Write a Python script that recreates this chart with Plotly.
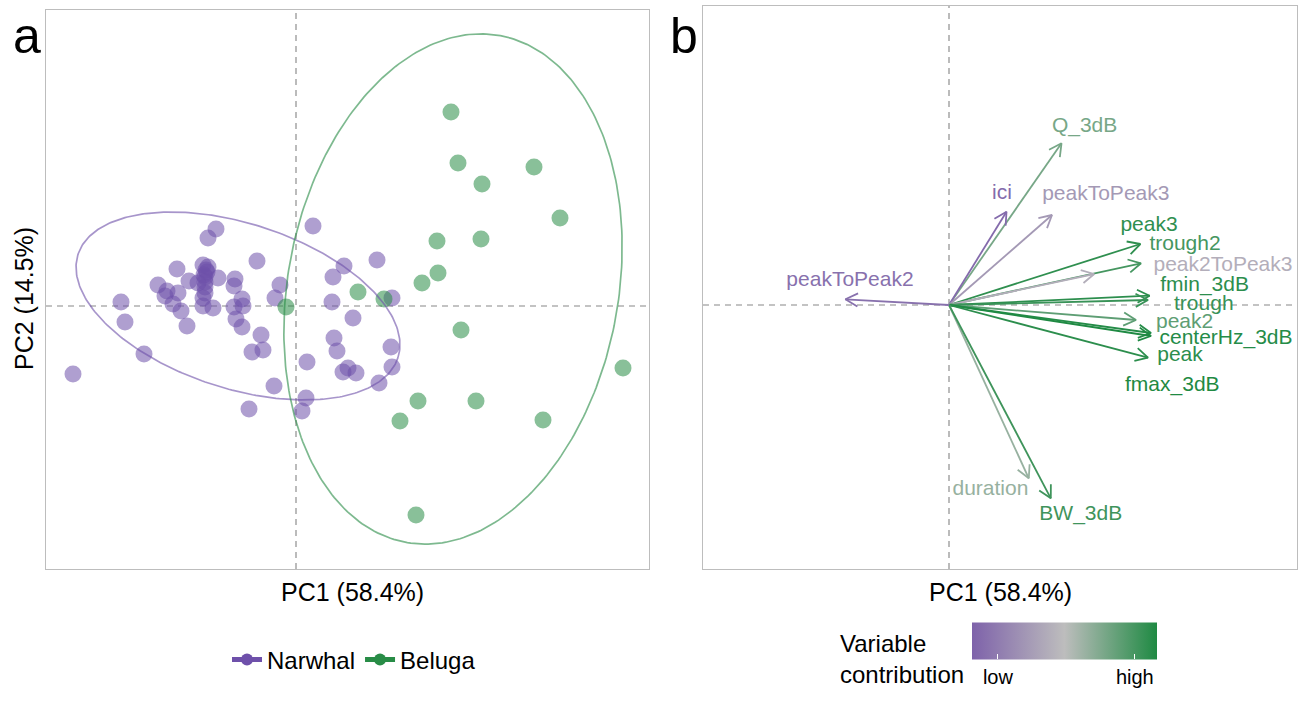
import numpy as np
import plotly.graph_objects as go
from plotly.colors import sample_colorscale

# ---------------- data: panel a (individuals) ----------------
narwhal_pc1 = [-2.23, -1.75, -1.71, -1.52, -1.38, -1.29, -1.31, -1.19, -1.18, -1.23,
               -1.15, -1.09, -1.07, -0.98, -0.93, -0.88, -0.80, -0.88, -0.89, -0.91,
               -0.91, -0.91, -0.93, -0.93, -0.83, -0.78, -0.61, -0.62, -0.54, -0.62,
               -0.53, -0.60, -0.54, -0.39, -0.16, -0.21, -0.35, -0.44, -0.33, -0.47,
               -0.22, 0.11, 0.10, 0.06, 0.17, 0.37, 0.48, 0.36, 0.57, 0.38,
               0.41, 0.52, 0.47, 0.60, 0.81, 0.96, 0.95, 0.96, 0.83,
               -0.90, -0.92, -0.91]
narwhal_pc2 = [-0.68, 0.04, -0.16, -0.48, 0.21, 0.15, 0.10, 0.37, 0.13, 0.02,
               -0.05, -0.20, 0.25, 0.23, 0.41, 0.68, 0.77, 0.39, 0.34, 0.29,
               0.19, 0.13, 0.08, 0.00, -0.02, 0.28, 0.27, 0.20, 0.07, -0.01,
               0.00, -0.13, -0.21, 0.45, 0.21, 0.08, -0.29, -0.46, -0.44, -1.03,
               -0.80, -0.56, -0.92, -1.05, 0.80, 0.29, 0.40, 0.04, -0.12, -0.32,
               -0.45, -0.62, -0.66, -0.67, 0.46, 0.08, -0.41, -0.61, -0.77,
               0.36, 0.31, 0.24]
beluga_pc1 = [1.55, 1.62, 2.38, 1.86, 2.64, 1.41, 1.85, 1.42, 1.26, 0.62,
              0.88, -0.10, 1.65, 3.27, 1.22, 1.80, 1.04, 2.47, 1.20]
beluga_pc2 = [1.94, 1.43, 1.39, 1.22, 0.88, 0.65, 0.67, 0.33, 0.23, 0.14,
              0.07, -0.01, -0.24, -0.62, -0.95, -0.95, -1.15, -1.14, -2.09]

groups = ["Narwhal", "Beluga"]
group_colors = ["#6e50aa", "#288c46"]

# confidence ellipses
ellipse_cx = [-0.58, 1.57]
ellipse_cy = [0.00, 0.17]
ellipse_a = [1.681, 2.577]
ellipse_b = [0.825, 1.652]
ellipse_angle = [-17.9, 79.4]

# ---------------- data: panel b (variables) ----------------
variables = ["Q_3dB", "ici", "peakToPeak3", "peak3", "trough2", "peak2ToPeak3",
             "fmin_3dB", "trough", "peak2", "centerHz_3dB", "fmax_3dB", "peak",
             "duration", "BW_3dB", "peakToPeak2"]
var_pc1 = [1.125, 0.575, 1.03, 1.914, 1.92, 1.452, 2.006, 1.99, 1.87, 2.02, 2.02,
           1.99, 0.798, 1.018, -1.036]
var_pc2 = [1.617, 0.933, 0.90, 0.61, 0.417, 0.31, 0.093, 0.05, -0.15, -0.28, -0.31,
           -0.527, -1.733, -1.933, 0.057]
var_contrib = [0.72, 0.05, 0.30, 0.95, 0.88, 0.42, 0.96, 0.92, 0.80, 0.98, 1.00,
               0.96, 0.62, 0.90, 0.08]

# label placement (repelled text positions)
label_x = [1.356, 0.53, 1.568, 2.00, 2.36, 2.74, 2.556, 2.548, 2.356, 2.77, 2.233,
           2.31, 0.414, 1.318, -0.99]
label_y = [1.783, 1.11, 1.10, 0.79, 0.607, 0.39, 0.197, 0.0, -0.177, -0.34, -0.81,
           -0.503, -1.85, -2.10, 0.243]

colorscale = [[0.0, "#7e62aa"], [0.5, "#bdbdbd"], [1.0, "#1f8a43"]]

FONT = "Liberation Sans, Arial, sans-serif"
W, H = 1306, 702

fig = go.Figure()

# ---- panel a ----
pts = [(narwhal_pc1, narwhal_pc2), (beluga_pc1, beluga_pc2)]
for g, col, (px_, py_) in zip(groups, group_colors, pts):
    fig.add_trace(go.Scatter(x=px_, y=py_, mode="markers", showlegend=False,
                             marker=dict(size=17, color=col, opacity=0.55, line=dict(width=0)),
                             xaxis="x", yaxis="y", hoverinfo="skip"))

t = np.linspace(0, 2 * np.pi, 300)
for i, col in enumerate(group_colors):
    th = np.deg2rad(ellipse_angle[i])
    ex = ellipse_cx[i] + ellipse_a[i] * np.cos(t) * np.cos(th) - ellipse_b[i] * np.sin(t) * np.sin(th)
    ey = ellipse_cy[i] + ellipse_a[i] * np.cos(t) * np.sin(th) + ellipse_b[i] * np.sin(t) * np.cos(th)
    fig.add_trace(go.Scatter(x=ex, y=ey, mode="lines", showlegend=False, opacity=0.6,
                             line=dict(color=col, width=1.7), xaxis="x", yaxis="y",
                             hoverinfo="skip"))

# legend-only traces
for g, col in zip(groups, group_colors):
    fig.add_trace(go.Scatter(x=[None], y=[None], mode="lines+markers", name=g,
                             line=dict(color=col, width=2), marker=dict(size=13, color=col),
                             xaxis="x", yaxis="y"))

# ---- panel b ----
var_colors = sample_colorscale(colorscale, var_contrib)
head_len = 0.14
head_ang = np.deg2rad(28)
for v, x1, y1, col in zip(variables, var_pc1, var_pc2, var_colors):
    L = np.hypot(x1, y1)
    ux, uy = x1 / L, y1 / L
    hx = []
    hy = []
    for s in (1, -1):
        c, sn = np.cos(s * head_ang), np.sin(s * head_ang)
        rx, ry = ux * c - uy * sn, ux * sn + uy * c
        hx.append(x1 - head_len * rx)
        hy.append(y1 - head_len * ry)
    fig.add_trace(go.Scatter(x=[0, x1, None, hx[0], x1, hx[1]],
                             y=[0, y1, None, hy[0], y1, hy[1]],
                             mode="lines", line=dict(color=col, width=1.8),
                             showlegend=False, xaxis="x2", yaxis="y2", hoverinfo="skip"))

fig.add_trace(go.Scatter(x=label_x, y=label_y, mode="text", text=variables,
                         textposition="middle center",
                         textfont=dict(family=FONT, size=21, color=var_colors),
                         showlegend=False, xaxis="x2", yaxis="y2", hoverinfo="skip"))

# colorbar carrier
cbar = dict(orientation="h", x=1064.5 / W, xanchor="center",
            y=1 - 658 / H, yanchor="middle",
            len=185, lenmode="pixels",
            thickness=37, thicknessmode="pixels",
            outlinewidth=0, xpad=0, ypad=0,
            tickvals=[0.14, 0.88], ticktext=["low", "high"],
            ticks="inside", ticklen=5, tickcolor="white", tickwidth=1,
            tickfont=dict(family=FONT, size=20, color="black"))
fig.add_trace(go.Scatter(x=[0, 0], y=[0, 0], mode="markers", showlegend=False,
                         xaxis="x2", yaxis="y2", hoverinfo="skip",
                         marker=dict(size=0.1, opacity=0, color=[0, 1], cmin=0, cmax=1,
                                     colorscale=colorscale, showscale=True, colorbar=cbar)))

# ---- axes ----
ax_common = dict(showgrid=False, zeroline=False, showticklabels=False, ticks="",
                 showline=True, mirror=True, linecolor="#bdbdbd", linewidth=1.3)
fig.update_layout(
    width=W, height=H,
    margin=dict(l=0, r=0, t=0, b=0),
    paper_bgcolor="white", plot_bgcolor="white",
    font=dict(family=FONT, color="black"),
    xaxis=dict(domain=[46 / W, 649 / W], range=[-2.50, 3.53], **ax_common),
    yaxis=dict(domain=[1 - 569 / H, 1 - 10 / H], range=[-2.63, 2.96], **ax_common),
    xaxis2=dict(domain=[703 / W, 1297 / W], range=[-2.46, 3.48], anchor="y2", **ax_common),
    yaxis2=dict(domain=[1 - 569 / H, 1 - 6 / H], range=[-2.64, 2.99], anchor="x2", **ax_common),
    legend=dict(orientation="h", x=354 / W, xanchor="center", y=1 - 660 / H, yanchor="middle",
                font=dict(family=FONT, size=24), bgcolor="rgba(0,0,0,0)",
                itemsizing="constant"),
    showlegend=True,
)

dash_style = dict(color="#b0b0b0", width=1.7, dash="6px,5px")
shapes = []
for xr, yr in (("x", "y"), ("x2", "y2")):
    shapes.append(dict(type="line", xref=xr, yref=yr + " domain", x0=0, x1=0, y0=0, y1=1,
                       line=dash_style, layer="below"))
    shapes.append(dict(type="line", xref=xr + " domain", yref=yr, x0=0, x1=1, y0=0, y1=0,
                       line=dash_style, layer="below"))
fig.update_layout(shapes=shapes)

ann = []
def add_text(text, xpx, ypx, size, **kw):
    ann.append(dict(text=text, x=xpx / W, y=1 - ypx / H, xref="paper", yref="paper",
                    showarrow=False, font=dict(family=FONT, size=size, color="black"), **kw))

add_text("a", 27, 36, 50, xanchor="center", yanchor="middle")
add_text("b", 684, 36, 50, xanchor="center", yanchor="middle")
add_text("PC1 (58.4%)", 352, 592, 25, xanchor="center", yanchor="middle")
add_text("PC1 (58.4%)", 1000, 592, 25, xanchor="center", yanchor="middle")
add_text("PC2 (14.5%)", 24, 299, 25, xanchor="center", yanchor="middle", textangle=-90)
add_text("Variable<br>contribution", 966, 659, 24, xanchor="right", yanchor="middle", align="left")
fig.update_layout(annotations=ann)

fig.write_html("out.html")
